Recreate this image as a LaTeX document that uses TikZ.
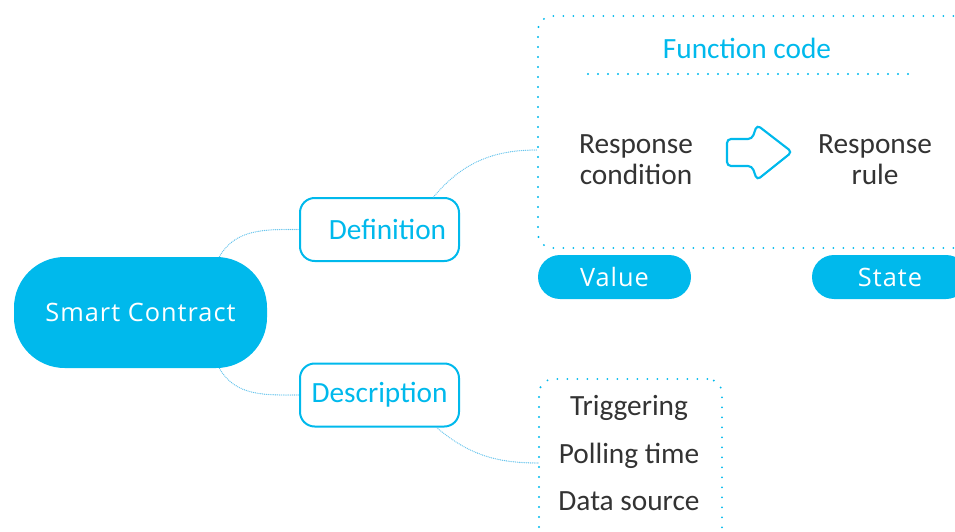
\documentclass[tikz,border=0pt]{standalone}
\usepackage{fontspec}
\setmainfont{Carlito}
\newfontfamily\pillfont[LetterSpace=4]{Open Sans}
\usetikzlibrary{calc}

\definecolor{scblue}{RGB}{0,185,236}
\definecolor{linkblue}{RGB}{100,195,236}
\definecolor{darktext}{RGB}{51,51,51}

\tikzset{every picture/.style={line width=0.75pt}}
\tikzset{
  pill/.style={fill=scblue, text=white, font=\pillfont\fontsize{19}{22}\selectfont, inner sep=0pt},
  branch/.style={draw=scblue, line width=1.5pt, rounded corners=11pt, text=scblue,
    font=\fontsize{22}{24}\selectfont, inner sep=0pt, minimum width=119.25pt, minimum height=47.25pt},
  dotbox/.style={draw=scblue, line width=1.6pt, dash pattern=on 0pt off 7.5pt, line cap=round,
    rounded corners=11pt, inner sep=0pt},
  link/.style={draw=linkblue, line width=1pt, dash pattern=on 0pt off 1.4pt, line cap=round},
  label/.style={text=darktext, font=\fontsize{22}{23.25}\selectfont, align=center, inner sep=0pt}
}

\begin{document}
\begin{tikzpicture}[x=0.75pt,y=0.75pt,yscale=-1,xscale=1]
\useasboundingbox (0,0) rectangle (955,531);
\clip (0,0) rectangle (955,531);

%Shape: Pill [id:smart]
\node [pill, rounded corners=38pt, minimum width=189.75pt, minimum height=83.25pt] (sc) at (140.5,312.5) {Smart Contract};
%Shape: Rounded Rect [id:definition]
\node [branch, align=right, text width=100pt, inner xsep=9.6pt] (def) at (379.5,229.5) {Definition};
%Shape: Rounded Rect [id:description]
\node [branch] (desc) at (379.5,395) {Description};

%Shape: Dotted Rect [id:function]
\node [dotbox, minimum width=322.5pt, minimum height=174pt] (fc) at (753,132) {};
% Text Node
\node [text=scblue, font=\fontsize{22}{24}\selectfont, inner sep=0pt] (fctitle) at (747,48) {Function code};
%Straight Lines [id:separator]
\draw [dotbox] (588,74) -- (912,74) ;
% Text Node
\node [label] (cond) at (636,159.5) {Response\\condition};
% Text Node
\node [label] (rule) at (875,159.5) {Response\\rule};
%Shape: Arrow [id:arrow]
\draw [draw=scblue, line width=1.6pt, rounded corners=3pt] (727,139) -- (752,139) -- (757,125) -- (792,152) -- (757,180) -- (752,166) -- (727,166) -- cycle ;

%Shape: Pill [id:value]
\node [pill, rounded corners=16.5pt, minimum width=114.75pt, minimum height=33pt] (val) at (614.5,277) {Value};
%Shape: Pill [id:state]
\node [pill, rounded corners=16.5pt, minimum width=117pt, minimum height=33pt] (state) at (890,277) {State};

%Shape: Dotted Rect [id:data]
\node [dotbox, minimum width=137.25pt, minimum height=126pt] (data) at (630.5,463) {};
% Text Node
\node [label] (trig) at (629,407.5) {Triggering};
% Text Node
\node [label] (poll) at (629,455.5) {Polling time};
% Text Node
\node [label] (dsrc) at (629,501.5) {Data source};

%Curves [id:links] (y is flipped, so upward is a negative angle)
\draw [link] ($(sc.north)+(79,0)$) to[out=-60,in=180] (def.west) ;
\draw [link] ($(sc.south)+(79,0)$) to[out=60,in=180] (desc.west) ;
\draw [link] ($(def.north)+(54,0)$) to[out=-50,in=180] ($(fc.west)+(0,18)$) ;
\draw [link] ($(desc.south)+(57,0)$) to[out=40,in=180] (data.west) ;

\end{tikzpicture}
\end{document}
